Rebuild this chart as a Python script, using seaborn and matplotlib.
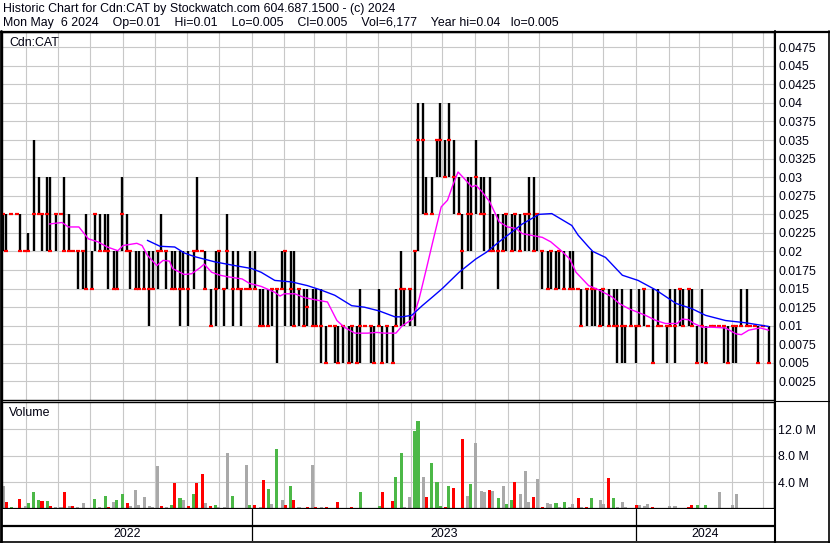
import numpy as np
import pandas as pd
import matplotlib
matplotlib.use("Agg")
import matplotlib.pyplot as plt
import matplotlib.dates as mdates
from matplotlib.lines import Line2D
import seaborn as sns

sns.set_style("white")
plt.rcParams["font.family"] = ["Liberation Sans", "DejaVu Sans"]

# ---------------- data (one bar = 3 trading days, ending Mon May 6 2024) ----------------
high = [
    .025, .025, .025, .025, .025, .02, .0225, .035, .03, .025,
    .03, .03, .025, .025, .03, .025, .02, .02, .02, .025,
    .02, .025, .025, .025, .025, .02, .02, .03, .025, .02,
    .02, .02, .02, .02, .02, .02, .025, .02, .02, .02,
    .02, .02, .02, .02, .03, .02, .02, .015, .02, .02,
    .015, .025, .02, .02, .015, .015, .02, .02, .015, .015,
    .015, .015, .015, .02, .02, .02, .02, .015, .015, .015,
    .015, .015, .015, .01, .01, .01, .01, .01, .01, .01,
    .01, .015, .01, .01, .01, .015, .01, .01, .01, .015,
    .02, .015, .015, .02, .04, .04, .03, .03, .035, .04,
    .035, .04, .035, .03, .025, .03, .03, .035, .03, .03,
    .03, .025, .025, .025, .025, .025, .025, .025, .025, .03,
    .03, .025, .02, .02, .02, .02, .02, .02, .02, .02,
    .015, .015, .015, .02, .015, .015, .015, .015, .015, .015,
    .015, .01, .015, .01, .015, .015, .01, .015, .015, .01,
    .01, .015, .015, .015, .015, .015, .015, .01, .015, .01,
    .01, .01, .01, .01, .01, .01, .01, .015, .015, .01,
    .01, .01, .01, .01,
]
low = [
    .02, .02, .025, .025, .02, .02, .02, .02, .025, .02,
    .02, .02, .02, .025, .02, .02, .02, .015, .015, .015,
    .015, .02, .02, .02, .015, .015, .015, .02, .02, .015,
    .015, .015, .015, .01, .015, .015, .02, .015, .015, .015,
    .01, .015, .01, .015, .02, .02, .015, .01, .01, .015,
    .01, .015, .01, .015, .01, .015, .015, .015, .01, .01,
    .01, .01, .005, .015, .01, .01, .01, .01, .01, .01,
    .01, .01, .005, .005, .01, .005, .005, .005, .005, .005,
    .005, .005, .01, .005, .005, .01, .005, .005, .005, .01,
    .01, .01, .01, .01, .02, .025, .025, .025, .03, .03,
    .03, .03, .025, .025, .015, .02, .02, .025, .025, .02,
    .02, .02, .015, .02, .02, .02, .02, .02, .02, .02,
    .02, .02, .015, .015, .015, .015, .015, .015, .015, .015,
    .015, .01, .01, .01, .01, .01, .01, .01, .01, .005,
    .005, .005, .01, .005, .01, .01, .01, .005, .01, .01,
    .005, .01, .005, .01, .01, .01, .01, .005, .005, .005,
    .01, .01, .01, .005, .005, .005, .005, .01, .01, .01,
    .01, .005, .01, .005,
]
close = [
    .025, .02, .025, .025, .02, .02, .02, .025, .025, .025,
    .025, .02, .025, .025, .02, .02, .02, .02, .02, .015,
    .015, .025, .02, .02, .02, .015, .015, .025, .02, .02,
    .015, .015, .015, .015, .015, .02, .02, .02, .015, .015,
    .015, .015, .015, .02, .02, .02, .015, .01, .015, .02,
    .015, .02, .015, .015, .015, .015, .015, .015, .01, .01,
    .01, .015, .015, .015, .02, .015, .01, .015, .01, .0125,
    .01, .01, .01, .005, .01, .01, .005, .01, .005, .01,
    .005, .01, .01, .01, .005, .01, .005, .01, .005, .01,
    .015, .015, .015, .02, .035, .035, .025, .025, .035, .035,
    .03, .035, .03, .025, .02, .025, .025, .03, .025, .025,
    .02, .02, .02, .02, .025, .02, .025, .02, .025, .025,
    .02, .025, .02, .015, .02, .015, .02, .015, .015, .015,
    .015, .01, .015, .015, .015, .01, .015, .01, .01, .01,
    .01, .01, .01, .01, .01, .015, .01, .005, .01, .01,
    .01, .01, .01, .015, .01, .015, .01, .005, .01, .005,
    .01, .01, .01, .01, .005, .01, .01, .01, .01, .01,
    .01, .005, .01, .005,
]
volume_m = [
    3.4, 1.1, 0.3, 0.2, 1.5, 0.4, 0.9, 2.6, 1.4, 1.2,
    1.2, 0.4, 0.3, 0.3, 2.6, 0.4, 0.4, 0.3, 0.9, 0.2,
    0.2, 1.5, 0.3, 1.9, 0.3, 1.0, 1.3, 2.3, 0.9, 0.4,
    2.9, 0.6, 1.8, 0.4, 0.3, 6.4, 0.4, 0.3, 0.6, 3.85,
    1.7, 1.4, 0.4, 2.2, 3.85, 5.2, 0.9, 0.4, 0.6, 0.3,
    0.3, 8.4, 1.9, 0.2, 0.1, 6.6, 0.6, 0.6, 0.3, 4.4,
    3.0, 0.8, 9.0, 1.3, 0.6, 3.4, 1.3, 0.3, 0.2, 0.3,
    6.6, 0.3, 0.3, 0.3, 0.2, 0.2, 1.0, 0.2, 0.2, 0.3,
    0.2, 2.5, 0.2, 0.2, 0.2, 0.4, 2.5, 0.2, 1.2, 4.8,
    8.5, 0.3, 1.8, 11.8, 13.3, 4.8, 1.8, 6.9, 4.1, 0.4,
    0.3, 3.5, 3.2, 0.2, 10.5, 2.0, 3.8, 10.0, 2.7, 2.5,
    2.8, 2.7, 1.6, 3.5, 0.7, 1.4, 4.1, 2.2, 5.7, 1.1,
    1.8, 4.5, 0.3, 0.9, 0.8, 0.9, 0.3, 1.1, 0.3, 0.7,
    1.7, 0.3, 0.3, 1.7, 0.2, 1.3, 0.7, 4.6, 1.6, 0.3,
    1.1, 0.3, 0.1, 0.6, 0.6, 0.4, 0.7, 0.3, 0.2, 0.1,
    0.2, 0.4, 0.4, 0.1, 0.2, 0.3, 0.6, 0.6, 0.2, 0.6,
    0.2, 0.2, 2.5, 0.2, 0.1, 0.6, 2.3, 0.2, 0.2, 0.1,
    0.1, 0.1, 0.1, 0.2,
]
# u = up day (green), d = down day (red), n = unchanged (grey)
volume_dir = list(
    "ndundnuuud" "udnndndnnu" "dunudnuudn" "nnnnnndnud" "unduddndun"
    "nnununudnd" "unundudndd" "ndndnndnnd" "nunnnudndu" "unnuunduuu"
    "dudddnunnn" "dnunuudnnn" "dndnnununn" "dndunnndun" "nnudnnndnn"
    "nnnunddudu" "nnnndnnunn" "ndnd"
)

ma_short_dates = [
    "2022-06-23", "2022-07-05", "2022-07-11", "2022-07-21", "2022-07-30", "2022-08-08",
    "2022-08-17", "2022-08-27", "2022-09-01", "2022-09-14", "2022-09-19", "2022-09-24",
    "2022-10-03", "2022-10-09", "2022-10-15", "2022-10-18", "2022-10-29", "2022-11-05",
    "2022-11-13", "2022-11-17", "2022-11-24", "2022-12-02", "2022-12-09", "2022-12-23",
    "2022-12-30", "2023-01-10", "2023-01-23", "2023-01-28", "2023-02-01", "2023-02-11",
    "2023-02-20", "2023-03-02", "2023-03-14", "2023-03-23", "2023-03-30", "2023-04-09",
    "2023-04-21", "2023-04-30", "2023-05-07", "2023-05-18", "2023-05-24", "2023-06-03",
    "2023-06-09", "2023-06-16", "2023-06-22", "2023-06-30", "2023-07-06", "2023-07-11",
    "2023-07-16", "2023-07-22", "2023-07-29", "2023-08-02", "2023-08-08", "2023-08-15",
    "2023-08-24", "2023-09-01", "2023-09-09", "2023-09-15", "2023-10-04", "2023-10-12",
    "2023-10-22", "2023-10-30", "2023-11-05", "2023-11-17", "2023-11-27", "2023-12-09",
    "2023-12-16", "2023-12-25", "2024-01-10", "2024-01-20", "2024-01-29", "2024-02-09",
    "2024-02-14", "2024-02-20", "2024-02-25", "2024-03-04", "2024-03-13", "2024-03-26",
    "2024-04-05", "2024-04-10", "2024-04-17", "2024-04-24", "2024-04-28", "2024-05-06",
]
ma_short = [
    .0237, .0239, .0233, .0233, .0217, .0213,
    .0206, .0201, .0208, .0211, .0208, .0195,
    .0181, .0188, .0187, .0177, .0169, .0170,
    .0178, .0183, .0172, .0168, .0166, .0163,
    .0157, .0153, .0145, .0140, .0143, .0143,
    .0138, .0135, .0132, .0107, .0098, .0090,
    .0090, .0091, .0090, .0090, .0100, .0109,
    .0136, .0177, .0213, .0260, .0269, .0289,
    .0307, .0298, .0287, .0289, .0280, .0267,
    .0240, .0233, .0231, .0224, .0219, .0213,
    .0201, .0190, .0172, .0154, .0148, .0139,
    .0130, .0123, .0114, .0107, .0103, .0103,
    .0109, .0108, .0103, .0098, .0098, .0097,
    .0089, .0088, .0094, .0096, .0097, .0094,
]
ma_long_dates = [
    "2022-09-24", "2022-10-06", "2022-10-20", "2022-10-29", "2022-11-08", "2022-11-27",
    "2022-12-16", "2023-01-01", "2023-01-10", "2023-01-23", "2023-02-08", "2023-02-23",
    "2023-03-08", "2023-03-21", "2023-04-06", "2023-04-18", "2023-05-02", "2023-05-17",
    "2023-05-24", "2023-06-02", "2023-06-12", "2023-06-22", "2023-07-01", "2023-07-17",
    "2023-08-02", "2023-08-12", "2023-08-24", "2023-09-15", "2023-10-01", "2023-10-13",
    "2023-11-01", "2023-11-07", "2023-11-17", "2023-11-21", "2023-12-03", "2023-12-19",
    "2024-01-03", "2024-01-20", "2024-02-08", "2024-02-23", "2024-03-07", "2024-03-26",
    "2024-04-14", "2024-05-06",
]
ma_long = [
    .0215, .0207, .0206, .0198, .0193, .0186,
    .0181, .0177, .0172, .0161, .0159, .0154,
    .0148, .0141, .0127, .0125, .0120, .0112,
    .0112, .0114, .0127, .0139, .0150, .0172,
    .0190, .0199, .0213, .0237, .0250, .0251,
    .0235, .0222, .0206, .0200, .0192, .0168,
    .0161, .0148, .0130, .0123, .0114, .0107,
    .0104, .0099,
]

price_ticks = [.0025, .005, .0075, .01, .0125, .015, .0175, .02, .0225, .025,
               .0275, .03, .0325, .035, .0375, .04, .0425, .045, .0475]
price_tick_labels = ["0.0025", "0.005", "0.0075", "0.01", "0.0125", "0.015", "0.0175",
                     "0.02", "0.0225", "0.025", "0.0275", "0.03", "0.0325", "0.035",
                     "0.0375", "0.04", "0.0425", "0.045", "0.0475"]
vol_ticks = [4e6, 8e6, 12e6]
vol_tick_labels = ["4.0 M", "8.0 M", "12.0 M"]
years = ["2022", "2023", "2024"]

title1 = "Historic Chart for Cdn:CAT by Stockwatch.com 604.687.1500 - (c) 2024"
title2 = ("Mon May  6 2024    Op=0.01    Hi=0.01    Lo=0.005    Cl=0.005    "
          "Vol=6,177    Year hi=0.04   lo=0.005")

# ---------------- figure ----------------
W, H = 830, 543
fig = plt.figure(figsize=(W / 100, H / 100), dpi=100)


def fx(px):
    return px / W


def fy(py):
    return 1 - py / H


L, R = 2, 774
ax1 = fig.add_axes([fx(L), fy(400), fx(R) - fx(L), (400 - 32) / H])
ax2 = fig.add_axes([fx(L), fy(509), fx(R) - fx(L), (509 - 402) / H])
ax3 = fig.add_axes([fx(L), fy(541), fx(R) - fx(L), (541 - 509) / H])

dates = pd.bdate_range(end="2024-05-06", periods=len(close), freq="3B")
xmin, xmax = pd.Timestamp("2022-05-09"), pd.Timestamp("2024-05-11")

GRID = "#c8c8c8"
FS = 8.9
TXT = "#000010"

for ax in (ax1, ax2, ax3):
    ax.set_xlim(xmin, xmax)
    ax.set_facecolor("white")
    for s in ax.spines.values():
        s.set_color("black")
        s.set_linewidth(1.0)

for ax in (ax1, ax2):
    ax.xaxis.set_major_locator(mdates.MonthLocator())
    ax.tick_params(axis="x", length=0, labelbottom=False)
    ax.grid(True, color=GRID, linewidth=0.8)
    ax.set_axisbelow(True)
    ax.yaxis.tick_right()
    ax.tick_params(axis="y", length=0, pad=3.2, labelsize=FS, labelcolor=TXT)

# price panel
ax1.vlines(dates, low, high, color="black", linewidth=1.7, zorder=2)
sns.scatterplot(x=dates, y=close, marker="_", s=10, color="#ff0000",
                edgecolor="#ff0000", linewidth=1.6, ax=ax1, zorder=3, legend=False)
sns.lineplot(x=pd.to_datetime(ma_short_dates), y=ma_short, color="#ff00ff",
             linewidth=1.0, ax=ax1, zorder=4, estimator=None)
sns.lineplot(x=pd.to_datetime(ma_long_dates), y=ma_long, color="#0000ff",
             linewidth=1.0, ax=ax1, zorder=4, estimator=None)
ax1.set_ylim(0, 0.04955)
ax1.set_yticks(price_ticks)
ax1.set_yticklabels(price_tick_labels)
ax1.set_xlim(xmin, xmax)
ax1.set_xlabel("")
ax1.set_ylabel("")

# volume panel
cmap = {"u": "#4cb847", "d": "#ff0000", "n": "#a9a9a9"}
vol_colors = [cmap[c] for c in volume_dir]
ax2.bar(dates, np.array(volume_m) * 1e6, width=2.9, color=vol_colors, linewidth=0, zorder=2)
ax2.set_ylim(0, 16.1e6)
ax2.set_yticks(vol_ticks)
ax2.set_yticklabels(vol_tick_labels)
ax2.set_xlim(xmin, xmax)
ax2.spines["bottom"].set_linewidth(1.6)

# date band
ax3.set_xticks([])
ax3.set_yticks([])
ax3.set_ylim(0, 1)
for s in ax3.spines.values():
    s.set_visible(False)
bounds = [xmin, pd.Timestamp("2023-01-01"), pd.Timestamp("2024-01-01"), xmax]
for b in bounds[1:3]:
    ax3.axvline(b, color="black", linewidth=0.9)
ax3.axhline(0.47, color="black", linewidth=1.6)
for i, yr in enumerate(years):
    mid = bounds[i] + (bounds[i + 1] - bounds[i]) / 2
    ax3.text(mid, 0.22, yr, ha="center", va="center", fontsize=FS, color=TXT)

# frame lines


def hline(y, x0, x1, lw):
    fig.add_artist(Line2D([fx(x0), fx(x1)], [fy(y), fy(y)], color="black", linewidth=lw))


def vline(x, y0, y1, lw):
    fig.add_artist(Line2D([fx(x), fx(x)], [fy(y0), fy(y1)], color="black", linewidth=lw))


hline(31.5, 0, 830, 1.6)
hline(542, 0, 830, 1.2)
hline(401, R, 830, 0.8)
vline(1, 31, 543, 2.0)
vline(829, 31, 543, 1.2)
vline(R + 0.5, 31, 543, 1.5)

# texts
fig.text(fx(3), fy(9), title1, ha="left", va="center", fontsize=FS, color=TXT)
fig.text(fx(3), fy(23), title2, ha="left", va="center", fontsize=FS, color=TXT)
fig.text(fx(9), fy(43), "Cdn:CAT", ha="left", va="center", fontsize=FS, color=TXT)
fig.text(fx(9), fy(413), "Volume", ha="left", va="center", fontsize=FS, color=TXT)

fig.savefig("out.png", dpi=100)
